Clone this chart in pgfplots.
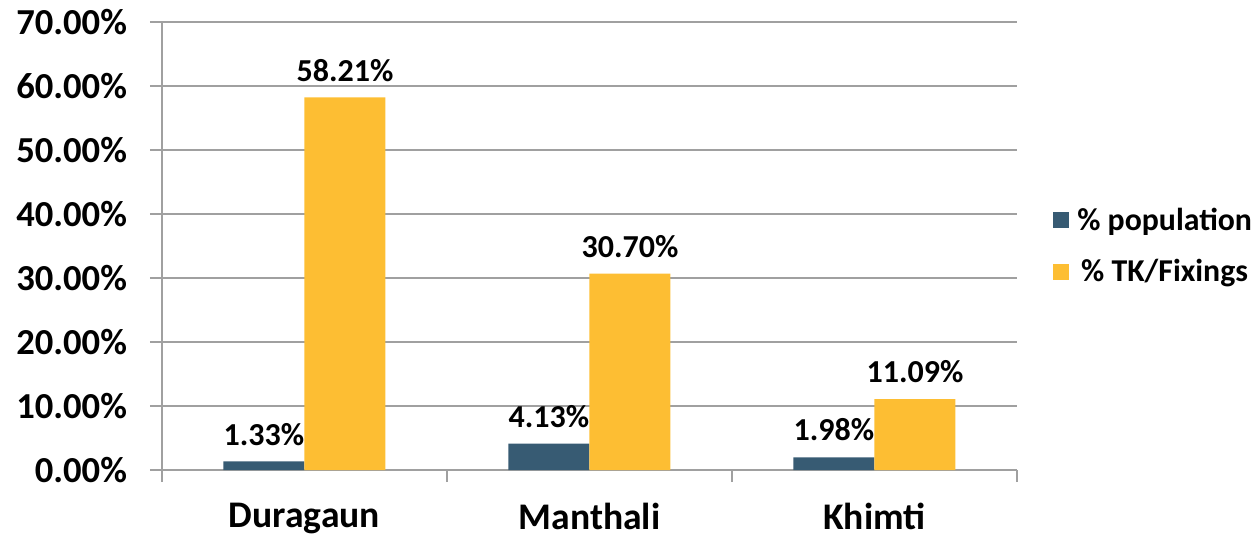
\documentclass[border=0pt]{standalone}
\usepackage{pgfplots}
\pgfplotsset{compat=1.18}
\usepackage{fontspec}
\setmainfont{Carlito}
\definecolor{popc}{RGB}{55,91,115}
\definecolor{tkc}{RGB}{253,190,51}
\definecolor{gridc}{RGB}{160,160,160}
\begin{document}
\begin{tikzpicture}
\path[use as bounding box] (-81pt,-33pt) rectangle (546.5pt,235pt);
\begin{axis}[
  at={(0pt,0pt)}, anchor=south west,
  scale only axis, width=427.5pt, height=224pt,
  ybar=0pt, bar width=40.5pt,
  xmin=-0.5, xmax=2.5, ymin=0, ymax=70,
  axis x line*=bottom, axis y line*=left,
  axis line style={gridc, line width=0.8pt, -},
  xtick={0,1,2}, xticklabels={Duragaun,Manthali,Khimti},
  major x tick style={draw=none},
  minor xtick={-0.5,0.5,1.5,2.5},
  minor tick length=6pt,
  minor x tick style={gridc, line width=0.8pt},
  ytick={0,10,20,30,40,50,60,70},
  yticklabels={0.00\%,10.00\%,20.00\%,30.00\%,40.00\%,50.00\%,60.00\%,70.00\%},
  major tick length=6pt,
  tick align=outside,
  y tick style={gridc, line width=0.8pt},
  ymajorgrids, grid style={gridc, line width=0.8pt},
  xticklabel style={font=\fontsize{18.8}{20}\selectfont\bfseries, yshift=-7pt},
  yticklabel style={font=\fontsize{18.3}{20}\selectfont\bfseries, xshift=-8pt},
  /pgf/number format/assume math mode=true,
  nodes near coords={\pgfmathprintnumber[fixed,fixed zerofill,precision=2]{\pgfplotspointmeta}\%},
  every node near coord/.append style={font=\fontsize{16}{18}\selectfont\bfseries, black, yshift=4.5pt},
  legend style={at={(1.035,0.5)}, anchor=west, draw=none, fill=none,
    font=\fontsize{15.9}{17}\selectfont\bfseries, row sep=9pt,
    /tikz/every odd column/.append style={column sep=2pt}},
  legend image code/.code={\fill[#1] (0cm,-4pt) rectangle (8pt,4pt);},
  clip=false,
]
\addplot[fill=popc, draw=none] coordinates {(0,1.33) (1,4.13) (2,1.98)};
\addplot[fill=tkc, draw=none] coordinates {(0,58.21) (1,30.70) (2,11.09)};
\legend{\% population,\% TK/Fixings}
\end{axis}
\end{tikzpicture}
\end{document}
